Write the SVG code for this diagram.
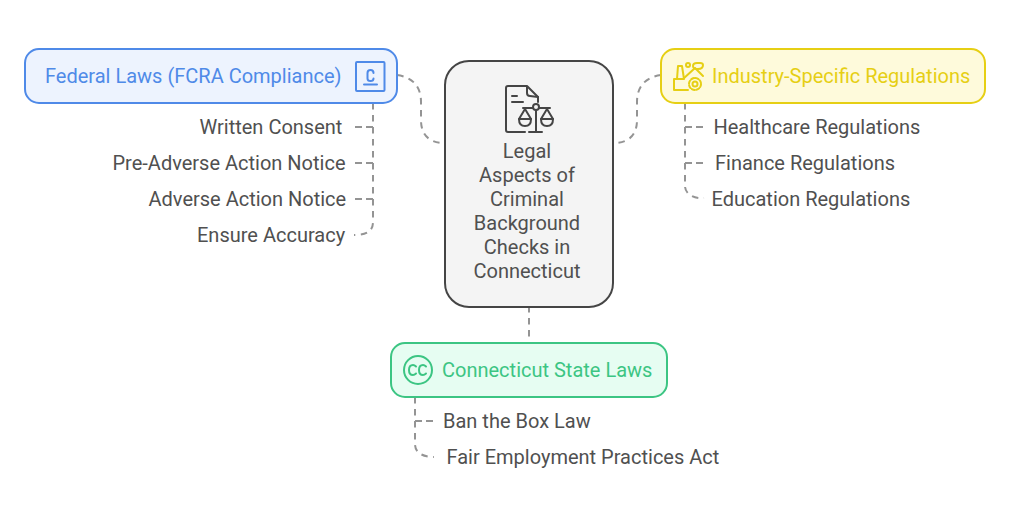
<svg xmlns="http://www.w3.org/2000/svg" width="1010" height="518" viewBox="0 0 1010 518">
<style>
text{font-family:Roboto,"Liberation Sans",sans-serif;font-size:20px;fill:#505050}
.c{fill:none;stroke:#949494;stroke-width:2;stroke-dasharray:6.500 5.500}
.h{fill:none;stroke:#949494;stroke-width:2;stroke-dasharray:7 4}
.i{fill:none;stroke-width:2;stroke-linecap:round;stroke-linejoin:round}
.node{stroke-width:2}
</style>
<rect width="1010" height="518" fill="#fff"/>
<g id="connectors">
<path class="c" d="M397 75C412 77 421 86 421 102V120C421 134 428 143 445 143"/>
<path class="c" d="M661 75C646 77 637 86 637 102V120C637 134 630 143 613 143"/>
<path class="c" d="M529 306V343"/>
<path class="c" d="M373 103V222C373 231 367 235 354 235"/>
<path class="h" d="M355 127H373M355 163H373M355 199H373"/>
<path class="c" d="M685 103V186C685 194 694 199 704 198"/>
<path class="h" d="M703 127H685M703 163H685"/>
<path class="c" d="M415 397V444C415 453 423 457 434 457"/>
<path class="h" d="M433 421H415"/>
</g>
<g id="center">
<rect class="node" x="445" y="61" width="168" height="246" rx="24" fill="#f4f4f4" stroke="#454545"/>
<g class="i" stroke="#454545">
<path d="M525 132H508Q506 132 506 130V88Q506 86 508 86H527L538 97V102"/>
<path d="M527 87V93Q527 96 530 96L538 97M512 96H517M512 102H523"/>
<circle cx="536" cy="107" r="3"/>
<path d="M536 110V132M529 132H542M523 108H533M539 108H550"/>
<path d="M525 109L519 119H531ZM547 109L541 119H553Z"/>
<path d="M519 119Q519 126 525 126Q531 126 531 119M541 119Q541 126 547 126Q553 126 553 119"/>
</g>
<text x="527" y="158" text-anchor="middle">Legal</text>
<text x="527" y="182" text-anchor="middle">Aspects of</text>
<text x="527" y="206" text-anchor="middle">Criminal</text>
<text x="527" y="230" text-anchor="middle">Background</text>
<text x="527" y="254" text-anchor="middle">Checks in</text>
<text x="527" y="278" text-anchor="middle">Connecticut</text>
</g>
<g id="federal">
<rect class="node" x="25" y="49" width="372" height="54" rx="14" fill="#edf3fe" stroke="#4f8ae8"/>
<text x="45" y="83" style="fill:#4f8ae8">Federal Laws (FCRA Compliance)</text>
<g class="i" stroke="#4f8ae8">
<rect x="356" y="62" width="28.500" height="29" rx="1"/>
<path d="M373.500 73Q373.500 70 370.500 70Q367.500 70 367.500 73V78.500Q367.500 81 370.500 81Q373.500 81 373.500 78.500M364 84.500H377"/>
</g>
</g>
<g id="industry">
<rect class="node" x="661" y="49" width="324" height="54" rx="14" fill="#fefadb" stroke="#e6cf14"/>
<text x="712" y="83" style="fill:#e6cf14">Industry-Specific Regulations</text>
<g class="i" stroke="#e6cf14" stroke-width="1.800">
<path d="M674 90V79H684L682 66H678L677 79M674 90H688"/>
<path d="M683 79L695 68L703 76"/>
<circle cx="688" cy="65" r="2"/>
<path d="M693 66Q693 63 697 63H700Q703 63 703 65Q703 69 698 69Q693 69 693 66"/>
<circle cx="695" cy="84" r="2.500"/>
<circle cx="695" cy="84" r="6" stroke-dasharray="3 1.700"/>
</g>
</g>
<g id="state">
<rect class="node" x="391" y="343" width="276" height="54" rx="14" fill="#e6fdf2" stroke="#3cc583"/>
<text x="442" y="377" style="fill:#3cc583">Connecticut State Laws</text>
<g class="i" stroke="#3cc583">
<circle cx="418" cy="370" r="14"/>
<path d="M416 366.500Q414.500 365 413 365Q409 365 409 370Q409 375 413 375Q414.500 375 416 373.500M426 366.500Q424.500 365 423 365Q419 365 419 370Q419 375 423 375Q424.500 375 426 373.500"/>
</g>
</g>
<g id="written"><text x="199.500" y="134">Written Consent</text></g>
<g id="preadverse"><text x="112.500" y="170">Pre-Adverse Action Notice</text></g>
<g id="adverse"><text x="148.500" y="206">Adverse Action Notice</text></g>
<g id="accuracy"><text x="197" y="242">Ensure Accuracy</text></g>
<g id="healthcare"><text x="713.500" y="134">Healthcare Regulations</text></g>
<g id="finance"><text x="715" y="170">Finance Regulations</text></g>
<g id="education"><text x="711.500" y="206">Education Regulations</text></g>
<g id="ban"><text x="443" y="428">Ban the Box Law</text></g>
<g id="fair"><text x="446.500" y="464">Fair Employment Practices Act</text></g>
</svg>
